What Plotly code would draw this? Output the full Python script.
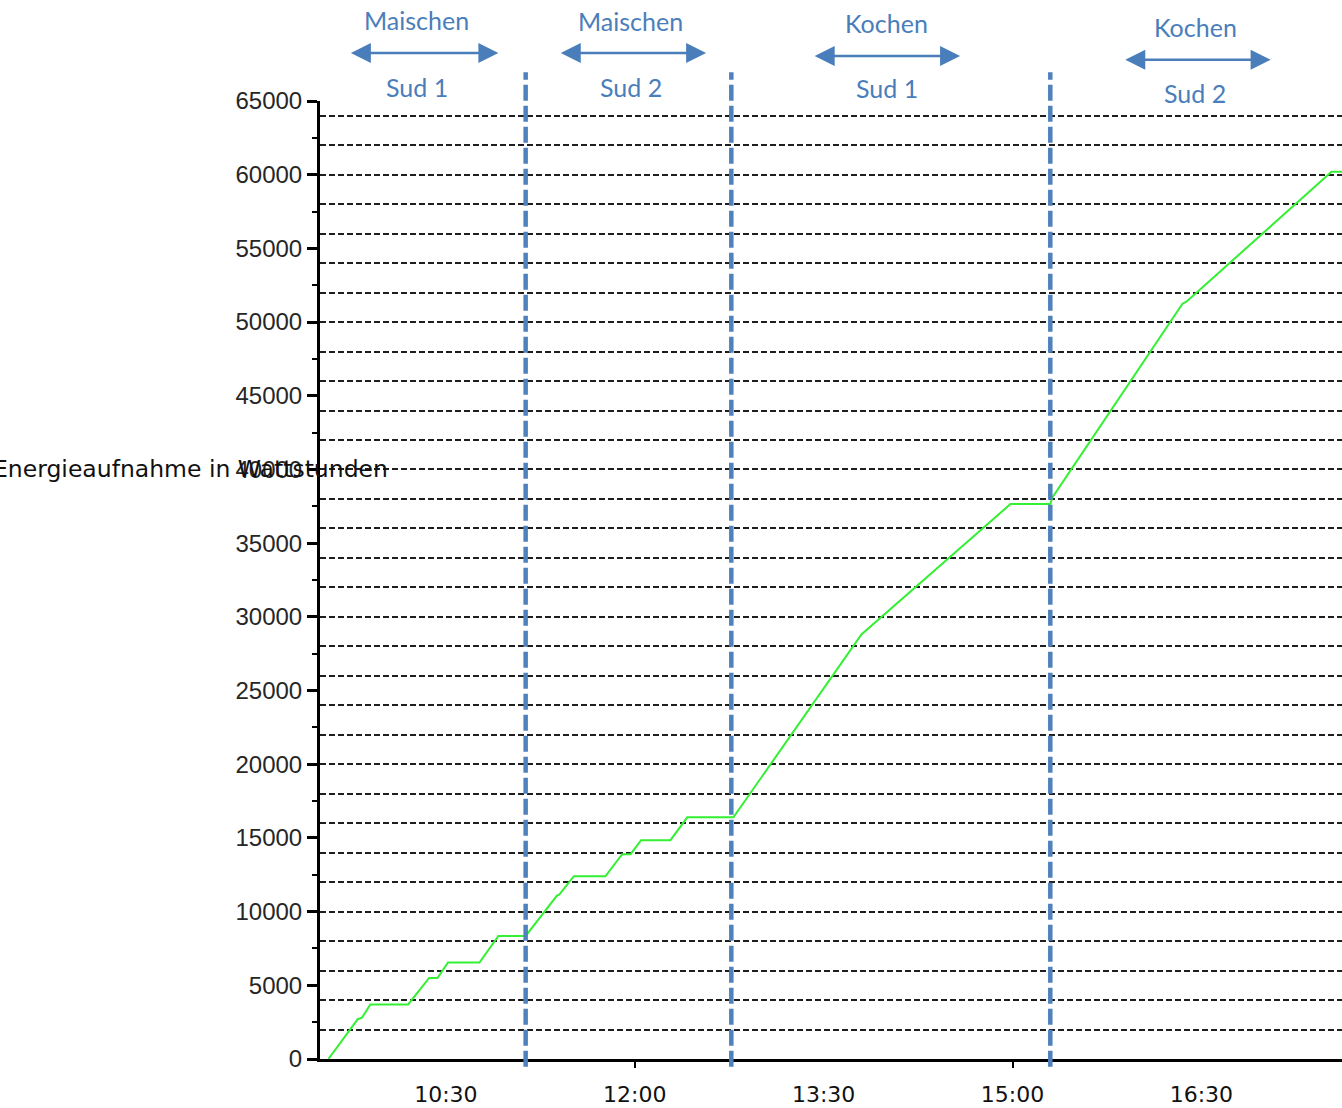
import plotly.graph_objects as go

DAY = "2015-03-14 "

# Logged cumulative energy (Wh) of the brewing system
times = ["09:34", "09:48", "09:50", "09:54", "10:12", "10:22", "10:26", "10:31",
         "10:46", "10:55", "11:08", "11:23", "11:24", "11:31", "11:46", "11:54",
         "11:58", "12:03", "12:17", "12:25", "12:47", "13:48", "14:59", "15:18",
         "15:19", "16:21", "16:23", "17:32", "17:37"]
energy_wh = [0, 2700, 2800, 3700, 3700, 5500, 5500, 6550,
             6550, 8350, 8350, 11100, 11150, 12400, 12400, 13900,
             13900, 14850, 14850, 16400, 16400, 28800, 37650, 37650,
             38100, 51250, 51400, 60200, 60200]

# Phase changes and phase names
phase_boundaries = ["11:08", "12:46", "15:18"]
phase_names = ["Maischen", "Maischen", "Kochen", "Kochen"]
sud_names = ["Sud 1", "Sud 2", "Sud 1", "Sud 2"]

x_tick_labels = ["10:30", "12:00", "13:30", "15:00", "16:30"]
x_tick_marks = ["12:00", "15:00"]
y_axis_title = "Energieaufnahme in Wattstunden"


def ts(hm):
    return DAY + hm


BLUE = "#4a7ebb"

fig = go.Figure()

fig.add_trace(go.Scatter(
    x=[ts(t) for t in times], y=energy_wh, mode="lines",
    line=dict(color="#33f033", width=2), showlegend=False, hoverinfo="skip",
))
# helper trace so the grid / tick-mark overlay axes are rendered
fig.add_trace(go.Scatter(
    x=[ts(t) for t in times], y=energy_wh, mode="lines",
    line=dict(width=0, color="rgba(0,0,0,0)"), xaxis="x2", yaxis="y2",
    showlegend=False, hoverinfo="skip",
))

shapes = []
for b in phase_boundaries:
    shapes.append(dict(
        type="line", xref="x", yref="paper", x0=ts(b), x1=ts(b),
        y0=-0.008, y1=1.03, layer="above",
        line=dict(color="#4f81bd", width=4.5, dash="16px,5px"),
    ))

annotations = []
# label / arrow centres and arrow spans of each phase
label_centres = ["10:16", "11:58", "14:00", "16:27"]
arrow_spans = [("09:44", "10:55"), ("11:24", "12:34"), ("13:25", "14:35"), ("15:53", "17:03")]
phase_y = [1.085, 1.084, 1.081, 1.077]
arrow_y = [1.050, 1.050, 1.047, 1.043]
sud_y = [1.015, 1.015, 1.014, 1.008]
for i in range(4):
    annotations.append(dict(
        x=ts(label_centres[i]), y=phase_y[i], xref="x", yref="paper",
        xanchor="center", yanchor="middle",
        text=phase_names[i], showarrow=False,
        font=dict(family="Lato", size=25, color=BLUE),
    ))
    annotations.append(dict(
        x=ts(label_centres[i]), y=sud_y[i], xref="x", yref="paper",
        xanchor="center", yanchor="middle",
        text=sud_names[i], showarrow=False,
        font=dict(family="Lato", size=25, color=BLUE),
    ))
    a0, a1 = arrow_spans[i]
    annotations.append(dict(
        x=ts(a1), y=arrow_y[i], xref="x", yref="paper",
        ax=ts(a0), ay=0, axref="x", ayref="pixel",
        text="", showarrow=True, arrowside="end+start", arrowhead=2,
        arrowsize=1.6, arrowwidth=2.5, arrowcolor=BLUE, standoff=0, startstandoff=0,
    ))

annotations.append(dict(
    x=-0.127, y=40000, xref="paper", yref="y", text=y_axis_title,
    showarrow=False, xanchor="center", yanchor="middle",
    font=dict(family="DejaVu Sans", size=23.5, color="#111111"),
))

fig.update_layout(
    width=1342, height=1108, autosize=False,
    margin=dict(l=320, r=0, t=101, b=49),
    paper_bgcolor="white", plot_bgcolor="white",
    showlegend=False,
    shapes=shapes, annotations=annotations,
    xaxis=dict(
        type="date", range=[ts("09:30"), ts("17:37")],
        tickmode="array", tickvals=[ts(t) for t in x_tick_labels], ticktext=x_tick_labels,
        ticks="", ticklabelstandoff=14, showgrid=False, zeroline=False,
        showline=True, linecolor="black", linewidth=3,
        tickfont=dict(family="DejaVu Sans", size=22, color="#111111"),
    ),
    xaxis2=dict(
        type="date", overlaying="x", matches="x", anchor="y",
        tickmode="array", tickvals=[ts(t) for t in x_tick_marks],
        ticks="outside", ticklen=8, tickwidth=2, tickcolor="black",
        showticklabels=False, showgrid=False, zeroline=False, showline=False,
    ),
    yaxis=dict(
        range=[0, 65000], tickmode="linear", tick0=0, dtick=5000, tickformat="d",
        ticks="outside", ticklen=10, tickwidth=3, tickcolor="black",
        showgrid=False, zeroline=False,
        showline=True, linecolor="black", linewidth=3,
        tickfont=dict(family="Liberation Sans", size=24, color="#262626"),
        minor=dict(dtick=2500, ticks="outside", ticklen=5, tickwidth=2,
                   tickcolor="black", showgrid=False),
    ),
    yaxis2=dict(
        range=[0, 65000], overlaying="y", matches="y", anchor="x",
        tickmode="linear", tick0=0, dtick=2000,
        showticklabels=False, ticks="", showline=False, zeroline=False,
        showgrid=True, gridcolor="#1e1e1e", gridwidth=2, griddash="6px,3px",
    ),
)

fig.write_html("out.html")
